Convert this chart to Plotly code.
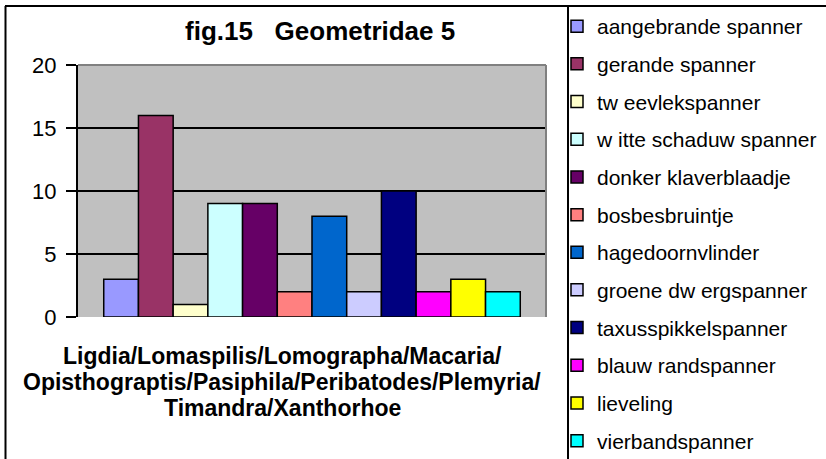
import plotly.graph_objects as go

# data
genus = "Ligdia/Lomaspilis/Lomographa/Macaria/Opisthograptis/Pasiphila/Peribatodes/Plemyria/Timandra/Xanthorhoe"
species = ["aangebrande spanner", "gerande spanner", "tw eevlekspanner", "w itte schaduw spanner",
           "donker klaverblaadje", "bosbesbruintje", "hagedoornvlinder", "groene dw ergspanner",
           "taxusspikkelspanner", "blauw randspanner", "lieveling", "vierbandspanner"]
counts = [3, 16, 1, 9, 9, 2, 8, 2, 10, 2, 3, 2]
colors = ["#9999FF", "#993366", "#FFFFCC", "#CCFFFF", "#660066", "#FF8080",
          "#0066CC", "#CCCCFF", "#000080", "#FF00FF", "#FFFF00", "#00FFFF"]
y_ticks = [0, 5, 10, 15, 20]
genus_lines = ["Ligdia/Lomaspilis/Lomographa/Macaria/",
               "Opisthograptis/Pasiphila/Peribatodes/Plemyria/",
               "Timandra/Xanthorhoe"]

W, H = 826, 459
L, R, T, B = 78, 546, 65, 317  # plot area in pixels
FONT = "Liberation Sans, Arial, sans-serif"

def px(x):
    return (x - L) / (R - L)

def py(y):
    return (B - y) / (B - T)

fig = go.Figure()
for i, (name, v, c) in enumerate(zip(species, counts, colors)):
    fig.add_trace(go.Bar(x=[genus], y=[v], name=name, legendgroup=str(i),
                         legend="legend" if i < 6 else "legend2",
                         marker=dict(color=c, line=dict(color="black", width=1.5))))

grey = dict(color="#808080", width=2)
shapes = [
    # plot area border (grey) on top and right
    dict(type="line", xref="paper", yref="paper", x0=0, x1=1, y0=1, y1=1, line=grey),
    dict(type="line", xref="paper", yref="paper", x0=1, x1=1, y0=0, y1=1, line=grey),
    # chart border
    dict(type="line", xref="paper", yref="paper", x0=px(5), x1=px(830), y0=py(6), y1=py(6),
         line=dict(color="black", width=2)),
    dict(type="line", xref="paper", yref="paper", x0=px(5.5), x1=px(5.5), y0=py(6), y1=py(465),
         line=dict(color="black", width=2)),
    # legend box left edge
    dict(type="line", xref="paper", yref="paper", x0=px(568), x1=px(568), y0=py(6), y1=py(465),
         line=dict(color="black", width=2)),
]

annotations = [dict(text="<b>fig.15   Geometridae 5</b>", xref="paper", yref="paper",
                    x=px(320), y=py(31), xanchor="center", yanchor="middle",
                    showarrow=False, font=dict(size=26, color="black"))]
for k, line in enumerate(genus_lines):
    annotations.append(dict(text="<b>%s</b>" % line, xref="paper", yref="paper",
                            x=px(282), y=py(356 + 25.8 * k), xanchor="center", yanchor="middle",
                            showarrow=False, font=dict(size=23, color="black")))

leg = dict(xref="container", yref="container", x=557 / W, xanchor="left", yanchor="top",
           traceorder="grouped", tracegroupgap=7.4,
           font=dict(size=21, color="black"), bgcolor="rgba(0,0,0,0)")

fig.update_layout(
    width=W, height=H,
    margin=dict(l=L, r=W - R, t=T, b=H - B, autoexpand=False),
    paper_bgcolor="white", plot_bgcolor="#C0C0C0",
    font=dict(family=FONT, color="black"),
    barmode="group", bargap=0.11, bargroupgap=0,
    showlegend=True,
    legend=dict(leg, y=1 - 6 / H),
    legend2=dict(leg, y=1 - 232 / H),
    shapes=shapes, annotations=annotations,
)
fig.update_xaxes(showticklabels=False, ticks="", showgrid=False, zeroline=False, showline=False)
fig.update_yaxes(range=[0, 20], tickvals=y_ticks, ticks="outside", ticklen=10, tickwidth=1.5,
                 tickcolor="black", showline=True, linecolor="black", linewidth=2,
                 showgrid=True, gridcolor="black", gridwidth=1.5, zeroline=False,
                 tickfont=dict(size=22, color="black"), ticklabelstandoff=5)

fig.write_html("out.html", config={"displayModeBar": False},
               post_script="document.body.style.margin = '0';")
